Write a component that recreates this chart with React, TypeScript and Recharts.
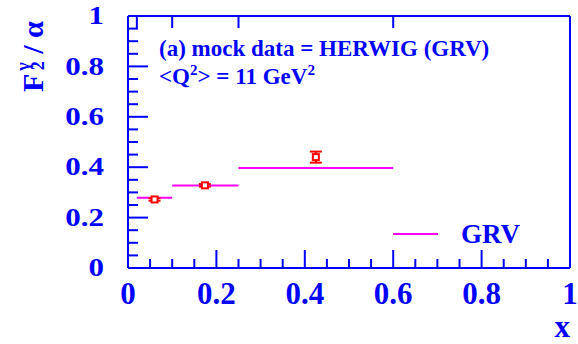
import {
  ComposedChart,
  ErrorBar,
  Label,
  Legend,
  Line,
  Scatter,
  XAxis,
  YAxis,
} from 'recharts';

const BLUE = '#0000ff';
const MAGENTA = '#ff00ff';
const RED = '#ff0000';
const FONT = '"Liberation Serif", "Times New Roman", serif';

// GRV prediction per x bin
const binLow = [0.02, 0.1, 0.25];
const binHigh = [0.1, 0.25, 0.6];
const grvValues = [0.279, 0.327, 0.397];

// mock data points (HERWIG)
const pointX = [0.06, 0.174, 0.425];
const pointY = [0.272, 0.328, 0.44];
const pointErr = [0.005, 0.005, 0.022];

const xTicks = [
  0, 0.05, 0.1, 0.15, 0.2, 0.25, 0.3, 0.35, 0.4, 0.45, 0.5, 0.55, 0.6, 0.65,
  0.7, 0.75, 0.8, 0.85, 0.9, 0.95, 1,
];
const yTicks = xTicks;
const binEdgeTicks = [0.02, 0.1, 0.25, 0.6];

const grvLine: { x: number; grv: number | null }[] = [];
binLow.forEach((lo, i) => {
  grvLine.push({ x: lo, grv: grvValues[i] });
  grvLine.push({ x: binHigh[i], grv: grvValues[i] });
  grvLine.push({ x: binHigh[i], grv: null });
});

const points = pointX.map((x, i) => ({ x, y: pointY[i], err: pointErr[i] }));

const isMajor = (v: number) => Math.abs(v * 5 - Math.round(v * 5)) < 1e-6;
const fmt = (v: number) => (v === 0 ? '0' : v === 1 ? '1' : v.toFixed(1));

const BottomTick = ({ x, y, payload }: any) => {
  const major = isMajor(payload.value);
  return (
    <g>
      <line x1={x} x2={x} y1={y} y2={y - (major ? 18 : 9)} stroke={BLUE} strokeWidth={2} />
      {major && (
        <text
          x={x}
          y={y + 36}
          textAnchor='middle'
          fill={BLUE}
          fontSize={31}
          fontWeight='bold'
          fontFamily={FONT}
        >
          {fmt(payload.value)}
        </text>
      )}
    </g>
  );
};

const LeftTick = ({ x, y, payload }: any) => {
  const major = isMajor(payload.value);
  return (
    <g>
      <line x1={x} x2={x + (major ? 20 : 10)} y1={y} y2={y} stroke={BLUE} strokeWidth={2} />
      {major && (
        <text
          transform={`translate(${x - 24}, ${y + 8.2}) scale(1, 0.78)`}
          textAnchor='end'
          fill={BLUE}
          fontSize={31}
          fontWeight='bold'
          fontFamily={FONT}
        >
          {fmt(payload.value)}
        </text>
      )}
    </g>
  );
};

const TopTick = ({ x, y }: any) => (
  <line x1={x} x2={x} y1={y} y2={y + 12} stroke={BLUE} strokeWidth={2} />
);

const Marker = ({ cx, cy }: any) => (
  <rect x={cx - 3} y={cy - 3} width={6} height={6} fill='#fff' stroke={RED} strokeWidth={2} />
);

const LegendBox = () => (
  <div style={{ display: 'flex', alignItems: 'center', fontFamily: FONT }}>
    <span style={{ width: 45, height: 2, background: MAGENTA, marginRight: 23 }} />
    <span style={{ color: BLUE, fontSize: 27, fontWeight: 'bold', lineHeight: '30px' }}>
      GRV
    </span>
  </div>
);

export default function App() {
  return (
    <div style={{ position: 'absolute', left: 0, top: 0, width: 578, height: 344, background: '#fff' }}>
      <ComposedChart
        width={578}
        height={344}
        margin={{ top: 15, right: 7, bottom: 0, left: 0 }}
      >
        <XAxis
          xAxisId='bottom'
          dataKey='x'
          type='number'
          domain={[0, 1]}
          ticks={xTicks}
          interval={0}
          height={76}
          tickSize={0}
          tickMargin={0}
          tickLine={false}
          tick={<BottomTick />}
          axisLine={{ stroke: BLUE, strokeWidth: 2 }}
          allowDataOverflow
        >
          <Label
            content={({ viewBox }: any) => (
              <text
                x={viewBox.x + viewBox.width}
                y={viewBox.y + 69}
                textAnchor='end'
                fill={BLUE}
                fontSize={31}
                fontWeight='bold'
                fontFamily={FONT}
              >
                x
              </text>
            )}
          />
        </XAxis>
        <XAxis
          xAxisId='top'
          orientation='top'
          dataKey='x'
          type='number'
          domain={[0, 1]}
          ticks={binEdgeTicks}
          interval={0}
          height={1}
          tickSize={0}
          tickMargin={0}
          tickLine={false}
          tick={<TopTick />}
          axisLine={{ stroke: BLUE, strokeWidth: 2 }}
          allowDataOverflow
        />
        <YAxis
          yAxisId='left'
          dataKey='y'
          type='number'
          domain={[0, 1]}
          ticks={yTicks}
          interval={0}
          width={128}
          tickSize={0}
          tickMargin={0}
          tickLine={false}
          tick={<LeftTick />}
          axisLine={{ stroke: BLUE, strokeWidth: 2 }}
          allowDataOverflow
        >
          <Label
            content={() => (
              <text
                transform='translate(43, 92) rotate(-90)'
                fill={BLUE}
                fontSize={30}
                fontWeight='bold'
                fontFamily={FONT}
              >
                <tspan>F</tspan>
                <tspan dx={3} dy={-14} fontSize={18}>γ</tspan>
                <tspan dx={-8} dy={15} fontSize={18}>2</tspan>
                <tspan dy={-1}> / α</tspan>
              </text>
            )}
          />
        </YAxis>
        <YAxis
          yAxisId='right'
          orientation='right'
          type='number'
          domain={[0, 1]}
          width={1}
          ticks={[0, 1]}
          tick={false}
          tickLine={false}
          axisLine={{ stroke: BLUE, strokeWidth: 2 }}
        />
        <Legend
          layout='horizontal'
          verticalAlign='middle'
          align='center'
          wrapperStyle={{ left: 393, top: 219, width: 160 }}
          content={<LegendBox />}
        />
        <Line
          xAxisId='bottom'
          yAxisId='left'
          data={grvLine}
          dataKey='grv'
          name='GRV'
          stroke={MAGENTA}
          strokeWidth={2}
          dot={false}
          connectNulls={false}
          isAnimationActive={false}
        />
        <Scatter
          xAxisId='bottom'
          yAxisId='left'
          data={points}
          dataKey='y'
          name='HERWIG'
          shape={<Marker />}
          isAnimationActive={false}
        >
          <ErrorBar dataKey='err' direction='y' width={6} stroke={RED} strokeWidth={2} />
        </Scatter>
      </ComposedChart>
      <svg
        width={578}
        height={344}
        style={{ position: 'absolute', left: 0, top: 0, pointerEvents: 'none' }}
      >
        <g fill={BLUE} fontWeight='bold' fontFamily={FONT} fontSize={23}>
          <text x={159} y={56}>(a) mock data = HERWIG (GRV)</text>
          <text x={159} y={84}>
            &lt;Q<tspan dy={-9} fontSize={15}>2</tspan>
            <tspan dy={9}>&gt; = 11 GeV</tspan>
            <tspan dy={-9} fontSize={15}>2</tspan>
          </text>
        </g>
      </svg>
    </div>
  );
}
